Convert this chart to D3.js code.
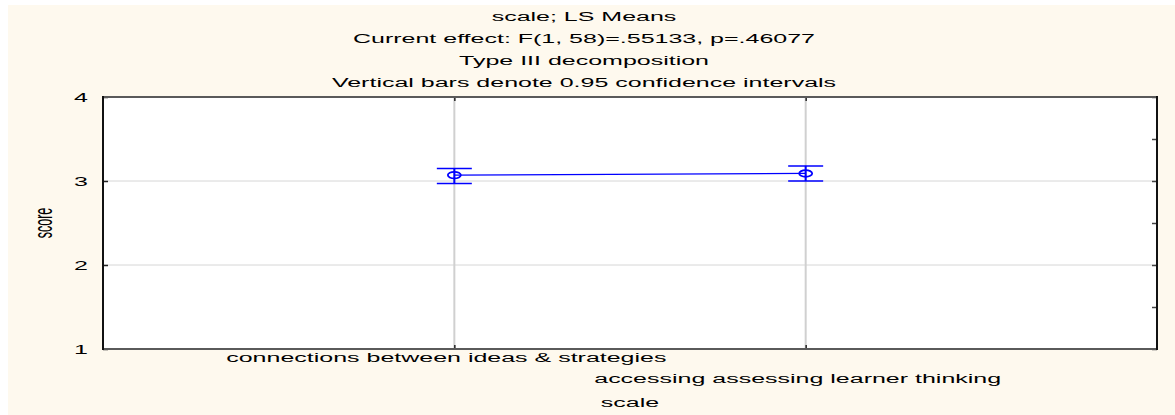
<!DOCTYPE html>
<html>
<head>
<meta charset="utf-8">
<script src="https://cdn.jsdelivr.net/npm/d3@7/dist/d3.min.js"></script>
<style>
  html, body { margin: 0; padding: 0; background: #ffffff; }
  svg { display: block; }
  text { font-family: "Liberation Sans", Arial, sans-serif; fill: #000; }
</style>
</head>
<body>
<svg id="chart" width="1175" height="415"></svg>
<script>
// ---- data ----
const categories = ["connections between ideas & strategies", "accessing assessing learner thinking"];
const means = [3.07, 3.09];
const lowerCI = [2.97, 3.00];
const upperCI = [3.15, 3.18];
const yTicks = [1, 2, 3, 4];
const yMinorTicks = [1.5, 2.5, 3.5];
const titleLines = [
  "scale; LS Means",
  "Current effect: F(1, 58)=.55133, p=.46077",
  "Type III decomposition",
  "Vertical bars denote 0.95 confidence intervals"
];
const xTitle = "scale";
const yTitle = "score";

// ---- layout ----
const W = 1175, H = 415;
const plot = { left: 103, right: 1157, top: 97, bottom: 349 };
const FS = 12.5, SX = 2.0; // font size and horizontal stretch

const svg = d3.select("#chart");

svg.append("rect").attr("x", 8).attr("y", 5).attr("width", W - 8).attr("height", H - 5)
  .attr("fill", "#fef9ee");
svg.append("rect").attr("x", plot.left).attr("y", plot.top)
  .attr("width", plot.right - plot.left).attr("height", plot.bottom - plot.top)
  .attr("fill", "#ffffff");

const x = d3.scalePoint().domain(categories).range([plot.left, plot.right]).padding(1);
const y = d3.scaleLinear().domain([1, 4]).range([plot.bottom, plot.top]);

function stretchedText(g, tx, ty, str, anchor) {
  return g.append("text")
    .attr("transform", `translate(${tx},${ty}) scale(${SX},1)`)
    .attr("text-anchor", anchor || "middle")
    .attr("font-size", FS)
    .text(str);
}

// grid lines
const grid = svg.append("g");
grid.selectAll("line.h").data(yTicks.filter(d => d > 1 && d < 4)).join("line")
  .attr("x1", plot.left).attr("x2", plot.right)
  .attr("y1", d => y(d)).attr("y2", d => y(d))
  .attr("stroke", "#d6d6d6").attr("stroke-width", 1);
grid.selectAll("line.v").data(categories).join("line")
  .attr("x1", d => x(d)).attr("x2", d => x(d))
  .attr("y1", plot.top).attr("y2", plot.bottom)
  .attr("stroke", "#d0d0d0").attr("stroke-width", 2);

// axes (ticks inward)
const leftAxis = d3.axisRight(y).tickValues(yTicks).tickSize(5).tickFormat("");
svg.append("g").attr("transform", `translate(${plot.left},0)`).call(leftAxis)
  .call(g => g.select(".domain").remove())
  .call(g => g.selectAll(".tick line").attr("stroke", "#222").attr("stroke-width", 1.5));
const rightAxis = d3.axisLeft(y).tickValues(yTicks.concat(yMinorTicks)).tickSize(5).tickFormat("");
svg.append("g").attr("transform", `translate(${plot.right},0)`).call(rightAxis)
  .call(g => g.select(".domain").remove())
  .call(g => g.selectAll(".tick line").attr("stroke", "#444").attr("stroke-width", 1.5));
const topAxis = d3.axisBottom(x).tickSize(4).tickFormat("");
svg.append("g").attr("transform", `translate(0,${plot.top})`).call(topAxis)
  .call(g => g.select(".domain").remove())
  .call(g => g.selectAll(".tick line").attr("stroke", "#222").attr("stroke-width", 1.5));
const bottomAxis = d3.axisTop(x).tickSize(4).tickFormat("");
svg.append("g").attr("transform", `translate(0,${plot.bottom})`).call(bottomAxis)
  .call(g => g.select(".domain").remove())
  .call(g => g.selectAll(".tick line").attr("stroke", "#222").attr("stroke-width", 1.5));

// frame
const frame = svg.append("g");
frame.append("line").attr("x1", plot.left).attr("x2", plot.right).attr("y1", plot.top).attr("y2", plot.top)
  .attr("stroke", "#5a5a5a").attr("stroke-width", 2);
frame.append("line").attr("x1", plot.left).attr("x2", plot.right).attr("y1", plot.bottom).attr("y2", plot.bottom)
  .attr("stroke", "#5a5a5a").attr("stroke-width", 2);
frame.append("line").attr("x1", plot.left).attr("x2", plot.left).attr("y1", plot.top - 1).attr("y2", plot.bottom + 1)
  .attr("stroke", "#111").attr("stroke-width", 2);
frame.append("line").attr("x1", plot.right).attr("x2", plot.right).attr("y1", plot.top - 1).attr("y2", plot.bottom + 1)
  .attr("stroke", "#111").attr("stroke-width", 2);

// y tick labels
const ylab = svg.append("g");
yTicks.forEach(t => {
  stretchedText(ylab, 88, y(t) + 4.5, String(t), "end");
});

// y title (rotated; stretch is perpendicular to text direction)
svg.append("text")
  .attr("transform", `translate(52,${(plot.top + plot.bottom) / 2}) rotate(-90) scale(1,${SX})`)
  .attr("text-anchor", "middle").attr("font-size", FS).text(yTitle);

// x category labels (staggered)
const xlab = svg.append("g");
categories.forEach((c, i) => {
  stretchedText(xlab, x(c) - 8, 362 + i * 21, c, "middle");
});
stretchedText(svg, (plot.left + plot.right) / 2, 407, xTitle, "middle");

// title
const tg = svg.append("g");
titleLines.forEach((t, i) => {
  stretchedText(tg, 584, 20.5 + i * 22, t, "middle");
});

// data: line, error bars, markers
const pts = categories.map((c, i) => ({ c, m: means[i], lo: lowerCI[i], hi: upperCI[i] }));
const blue = "#0000ff";
svg.append("path").datum(pts)
  .attr("d", d3.line().x(d => x(d.c)).y(d => y(d.m)))
  .attr("fill", "none").attr("stroke", blue).attr("stroke-width", 1.2);
const eb = svg.append("g").selectAll("g").data(pts).join("g");
eb.append("line").attr("x1", d => x(d.c)).attr("x2", d => x(d.c))
  .attr("y1", d => y(d.hi)).attr("y2", d => y(d.lo)).attr("stroke", blue).attr("stroke-width", 2);
eb.append("line").attr("x1", d => x(d.c) - 17.5).attr("x2", d => x(d.c) + 17.5)
  .attr("y1", d => y(d.hi)).attr("y2", d => y(d.hi)).attr("stroke", blue).attr("stroke-width", 1.5);
eb.append("line").attr("x1", d => x(d.c) - 17.5).attr("x2", d => x(d.c) + 17.5)
  .attr("y1", d => y(d.lo)).attr("y2", d => y(d.lo)).attr("stroke", blue).attr("stroke-width", 1.5);
eb.append("ellipse").attr("cx", d => x(d.c)).attr("cy", d => y(d.m))
  .attr("rx", 6.5).attr("ry", 3.3).attr("fill", "none").attr("stroke", blue).attr("stroke-width", 1.8);
</script>
</body>
</html>
